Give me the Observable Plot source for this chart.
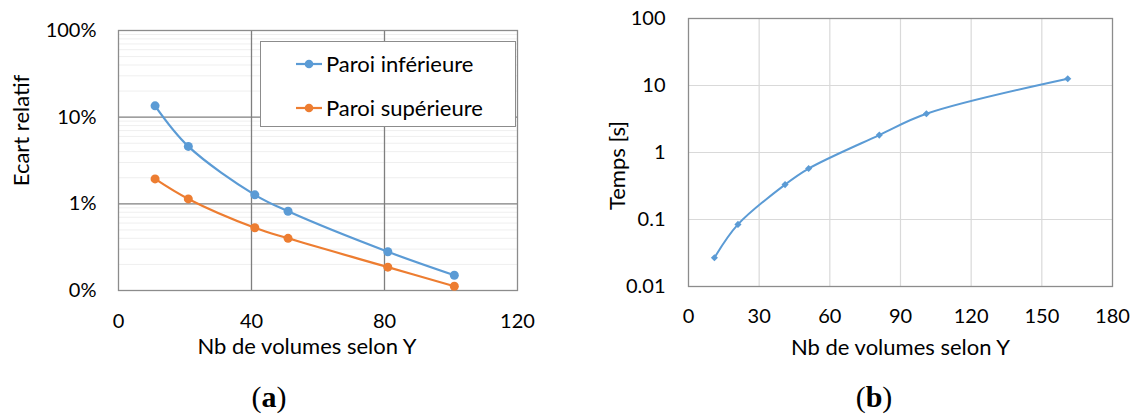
<!DOCTYPE html>
<html>
<head>
<meta charset="utf-8">
<script src="https://cdn.jsdelivr.net/npm/d3@7"></script>
<script src="https://cdn.jsdelivr.net/npm/@observablehq/plot@0.6"></script>
<style>
  html, body { margin: 0; padding: 0; background: #fff; }
  #root { position: relative; width: 1134px; height: 418px; overflow: hidden; font-family: Lato, sans-serif; }
  .panel { position: absolute; top: 0; }
  .legend { position: absolute; left: 260px; top: 41px; width: 256px; height: 86px; border: 1px solid #8c8c8c; background: #fff; box-sizing: border-box; }
  .legend .item { position: absolute; left: 0; height: 26px; display: flex; align-items: center; font-size: 22px; color: #000; }
  .legend svg { margin-left: 35px; margin-right: 4px; }
  .cap { position: absolute; top: 380px; font-family: "Liberation Serif", serif; font-size: 30px; color: #000; transform: translateX(-50%); }
</style>
</head>
<body>
<div id="root">
  <div class="panel" id="pa" style="left:0px"></div>
  <div class="panel" id="pb" style="left:570px"></div>
  <div class="legend" id="leg"></div>
  <div class="cap" style="left:269px">(<b>a</b>)</div>
  <div class="cap" style="left:874px">(<b>b</b>)</div>
</div>
<script>
// ---- data (a) ----
const xA = [11, 21, 41, 51, 81, 101];
const paroiInferieure = [0.135, 0.046, 0.0127, 0.0082, 0.0028, 0.0015];
const paroiSuperieure = [0.0194, 0.0114, 0.0053, 0.0040, 0.00186, 0.00112];
const seriesA = ["Paroi inférieure", "Paroi supérieure"];
const colorsA = ["#5B9BD5", "#ED7D31"];
const xTicksA = [0, 40, 80, 120];
const yTicksA = [0.001, 0.01, 0.1, 1];
// ---- data (b) ----
const xB = [11, 21, 41, 51, 81, 101, 161];
const temps = [0.0268, 0.0845, 0.332, 0.576, 1.82, 3.78, 12.6];
const xTicksB = [0, 30, 60, 90, 120, 150, 180];
const yTicksB = [0.01, 0.1, 1, 10, 100];
const xTitle = "Nb de volumes selon Y";
const yTitleA = "Ecart relatif";
const yTitleB = "Temps [s]";

const rowsA = [];
[paroiInferieure, paroiSuperieure].forEach((vals, s) =>
  vals.forEach((v, i) => rowsA.push({serie: seriesA[s], x: xA[i], y: v})));
const rowsB = xB.map((x, i) => ({x, y: temps[i]}));

const minorA = [];
yTicksA.slice(0, -1).forEach(d => { for (let k = 2; k <= 9; k++) minorA.push(d * k); });

const font = {fontFamily: "Lato, sans-serif", fontSize: "20px", color: "#000", background: "transparent", overflow: "visible"};

const plotA = Plot.plot({
  width: 560, height: 370,
  marginLeft: 118, marginRight: 43, marginTop: 30, marginBottom: 80,
  style: font,
  x: {domain: [0, 120], ticks: xTicksA, tickSize: 0, tickPadding: 23, label: null},
  y: {type: "log", domain: [0.001, 1], ticks: yTicksA, tickFormat: d3.format(".0%"), tickSize: 0, tickPadding: 22, label: null},
  color: {domain: seriesA, range: colorsA},
  marks: [
    Plot.ruleY(minorA, {stroke: "#efefef", strokeWidth: 1}),
    Plot.ruleX([40, 80], {stroke: "#7f7f7f", strokeWidth: 1.3}),
    Plot.ruleY([0.01, 0.1], {stroke: "#7f7f7f", strokeWidth: 1.3}),
    Plot.frame({stroke: "#8c8c8c", strokeWidth: 1.3}),
    Plot.line(rowsA, {x: "x", y: "y", z: "serie", stroke: "serie", curve: "catmull-rom", strokeWidth: 2.2}),
    Plot.dot(rowsA, {x: "x", y: "y", fill: "serie", r: 4.5}),
    Plot.text([xTitle], {frameAnchor: "bottom", dx: -11, dy: 63, fontSize: 22}),
    Plot.text([yTitleA], {frameAnchor: "left", textAnchor: "middle", rotate: -90, dx: -97, dy: -30, fontSize: 22})
  ]
});
document.getElementById("pa").appendChild(plotA);

const plotB = Plot.plot({
  width: 564, height: 370,
  marginLeft: 118, marginRight: 22, marginTop: 18, marginBottom: 84,
  style: font,
  x: {domain: [0, 180], ticks: xTicksB, tickSize: 0, tickPadding: 22, label: null},
  y: {type: "log", domain: [0.01, 100], ticks: yTicksB, tickFormat: d => String(d), tickSize: 0, tickPadding: 23, label: null},
  marks: [
    Plot.ruleX(xTicksB.slice(1, -1), {stroke: "#d9d9d9", strokeWidth: 1.2}),
    Plot.ruleY(yTicksB.slice(1, -1), {stroke: "#d9d9d9", strokeWidth: 1.2}),
    Plot.frame({stroke: "#8c8c8c", strokeWidth: 1.3}),
    Plot.line(rowsB, {x: "x", y: "y", stroke: "#5B9BD5", curve: "catmull-rom", strokeWidth: 2}),
    Plot.dot(rowsB, {x: "x", y: "y", fill: "#5B9BD5", symbol: "diamond2", r: 3.2}),
    Plot.text([xTitle], {frameAnchor: "bottom", dy: 68, fontSize: 22}),
    Plot.text([yTitleB], {frameAnchor: "left", textAnchor: "middle", rotate: -90, dx: -71, dy: 13, fontSize: 22})
  ]
});
document.getElementById("pb").appendChild(plotB);

// legend
const leg = document.getElementById("leg");
seriesA.forEach((s, i) => {
  const it = document.createElement("div");
  it.className = "item";
  it.style.top = (i === 0 ? 8.5 : 52.5) + "px";
  it.innerHTML = `<svg width="26" height="12"><line x1="0" x2="26" y1="6" y2="6" stroke="${colorsA[i]}" stroke-width="2.2"/><circle cx="13" cy="6" r="4.3" fill="${colorsA[i]}"/></svg><span>${s}</span>`;
  leg.appendChild(it);
});
</script>
</body>
</html>
